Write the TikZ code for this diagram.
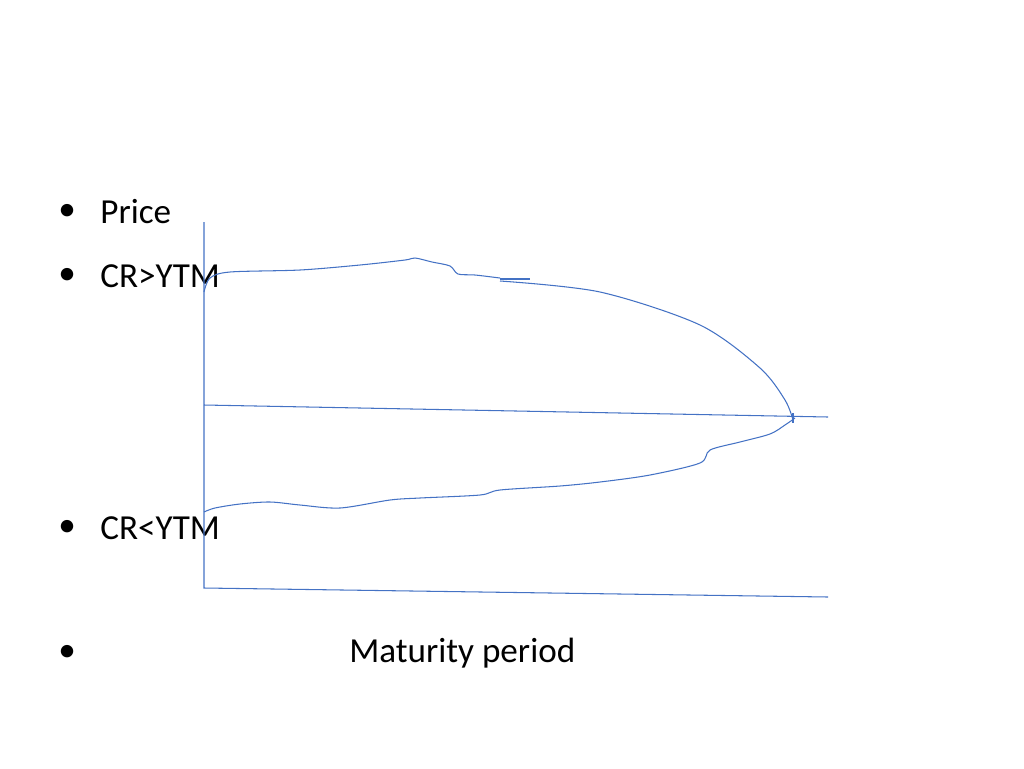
\documentclass[tikz,border=0pt]{standalone}
\usepackage{fontspec}
\setmainfont{Carlito}
\definecolor{penblue}{RGB}{68,114,196}
\begin{document}
\begin{tikzpicture}[x=0.02cm,y=-0.02cm,
  pen/.style={penblue, line width=0.6pt},
  item/.style={anchor=west, font=\fontsize{20}{24}\selectfont, inner sep=0pt}]
\useasboundingbox (0,0) rectangle (1024,768);

% bullet points
\node[item] (bprice) at (58,212) {\textbullet};
\node[item] (price) at (100,212) {Price};
\node[item] (bcrg) at (58,276) {\textbullet};
\node[item] (crg) at (100,276) {CR>YTM};
\node[item] (bcrl) at (58,528) {\textbullet};
\node[item] (crl) at (100,528) {CR<YTM};
\node[item] (bmat) at (58,653) {\textbullet};
\node[item] (mat) at (349,653) {Maturity period};

% axes
\coordinate (o) at (204,588);
\draw[pen] (204,222) -- (o) -- (828,597);
\draw[pen] (204,405) -- (828,417);

% CR>YTM
\draw[pen] plot[smooth] coordinates {(204,292) (210,278) (230,272) (300,270) (360,265)
  (405,260) (415,258) (432,262) (450,266) (458,274) (475,275) (500,278)};
\draw[pen] (500,279) -- (530,279);
\draw[pen] plot[smooth] coordinates {(500,281) (600,292) (700,325) (760,368) (785,400) (793,420)};

% CR<YTM
\draw[pen] plot[smooth] coordinates {(204,512) (215,508) (240,504) (270,502) (300,505)
  (340,508) (390,500) (420,498) (480,495) (500,490) (560,486) (600,482) (650,475)
  (700,463) (710,450) (740,442) (770,434) (785,425) (795,418)};
\draw[pen] (793,413) -- (793,423);
\end{tikzpicture}
\end{document}
